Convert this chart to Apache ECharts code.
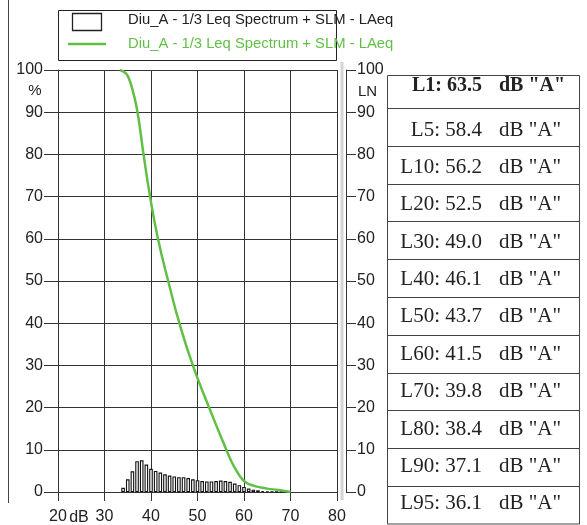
<!DOCTYPE html>
<html><head><meta charset="utf-8">
<script src="https://cdn.jsdelivr.net/npm/echarts@6/dist/echarts.min.js"></script>
<style>html,body{margin:0;padding:0;background:#fff}#c{width:587px;height:525px}</style>
</head><body><div id="c"></div>
<script>
// ---- data ----
const histDb = [34,35,36,37,38,39,40,41,42,43,44,45,46,47,48,49,50,51,52,53,54,55,56,57,58,59,60,61,62,63,64,65,66,67,68,69];
const histPct = [1.0,3.0,4.9,7.3,7.5,6.5,5.5,5.0,4.6,4.2,3.9,3.7,3.5,3.5,3.3,3.0,2.8,2.6,2.5,2.5,2.6,2.7,2.6,2.4,2.0,1.6,1.2,0.8,0.55,0.4,0.25,0.15,0.1,0.07,0.05,0.03];
const curveDb = [33.3,34.6,35.4,36.1,37.1,38.4,39.8,41.5,43.7,46.1,49.0,52.5,56.2,57.4,58.4,59.5,60.5,62.0,63.5,65.0,67.5,70.0];
const curvePct = [100,99.2,97.5,95,90,80,70,60,50,40,30,20,10,7.0,5,3.2,2.2,1.5,1.1,0.8,0.45,0];
const lnNames = ['L1','L5','L10','L20','L30','L40','L50','L60','L70','L80','L90','L95'];
const lnValues = [63.5,58.4,56.2,52.5,49.0,46.1,43.7,41.5,39.8,38.4,37.1,36.1];
const legendLabel = 'Diu_A - 1/3 Leq Spectrum + SLM - LAeq';
const unitLabel = 'dB "A"';

const green = '#62bf46';
const gridC = '#333';
const txtC = '#222';
const sans = '"Liberation Sans", Arial, sans-serif';

const chart = echarts.init(document.getElementById('c'), null, {renderer:'canvas'});

const graphics = [];
graphics.push({type:'line', shape:{x1:8.5,y1:0,x2:8.5,y2:503}, style:{stroke:'#444',lineWidth:1}});
graphics.push({type:'line', shape:{x1:342,y1:62,x2:342,y2:500}, style:{stroke:'#d4d4d4',lineWidth:3}});
// legend
graphics.push({type:'rect', shape:{x:58.5,y:10.5,width:278,height:50}, style:{fill:null,stroke:'#222',lineWidth:1}});
graphics.push({type:'rect', shape:{x:72.5,y:13.5,width:29,height:17}, style:{fill:'#fff',stroke:'#222',lineWidth:1.3}});
graphics.push({type:'line', shape:{x1:68,y1:44,x2:106,y2:44}, style:{stroke:green,lineWidth:2.5}});
graphics.push({type:'text', x:128, y:19.5, style:{text:legendLabel, fill:'#222', font:'14.8px '+sans, textVerticalAlign:'middle'}});
graphics.push({type:'text', x:128, y:44, style:{text:legendLabel, fill:green, font:'14.8px '+sans, textVerticalAlign:'middle'}});
// axis unit texts
graphics.push({type:'text', x:35, y:91, style:{text:'%', fill:txtC, font:'15px '+sans, textAlign:'center', textVerticalAlign:'middle'}});
graphics.push({type:'text', x:358, y:92, style:{text:'LN', fill:txtC, font:'15px '+sans, textAlign:'left', textVerticalAlign:'middle'}});
graphics.push({type:'text', x:79, y:518, style:{text:'dB', fill:txtC, font:'16px '+sans, textAlign:'center', textVerticalAlign:'middle'}});

// table
const tL = 387.5, tR = 579.5, tTop = 75.5, row1B = 108.5, rowH = 37.8;
graphics.push({type:'rect', shape:{x:tL,y:tTop,width:tR-tL,height:524-tTop}, style:{fill:null,stroke:'#444',lineWidth:1}});
graphics.push({type:'line', shape:{x1:tL,y1:row1B,x2:tR,y2:row1B}, style:{stroke:'#444',lineWidth:1}});
for (let i=1;i<11;i++){
  const y = Math.round(108 + rowH*i)+0.5;
  graphics.push({type:'line', shape:{x1:tL,y1:y,x2:tR,y2:y}, style:{stroke:'#444',lineWidth:1}});
}
lnNames.forEach((n,i)=>{
  const cy = i===0 ? 86 : 130 + 37.38*(i-1);
  const f = (i===0?'bold 20px ':'21px ') + '"Liberation Serif", "Times New Roman", serif';
  graphics.push({type:'text', x:482, y:cy, style:{text:n+': '+lnValues[i].toFixed(1), fill:'#222', font:f, textAlign:'right', textVerticalAlign:'middle'}});
  graphics.push({type:'text', x:499, y:cy, style:{text:unitLabel, fill:'#222', font:f, textAlign:'left', textVerticalAlign:'middle'}});
});

const option = {
  animation:false,
  backgroundColor:'#fff',
  grid:{left:58, top:70, width:279, height:424, containLabel:false},
  xAxis:{type:'value', min:20, max:80, interval:10,
    axisLine:{show:true, lineStyle:{color:gridC,width:1}},
    axisTick:{show:true, length:9, lineStyle:{color:gridC}},
    axisLabel:{color:txtC, fontSize:16, fontFamily:sans, margin:17},
    splitLine:{show:true, lineStyle:{color:gridC,width:1}}},
  yAxis:[
    {type:'value', min:0, max:100, interval:10, position:'left',
      axisLine:{show:true, lineStyle:{color:gridC}},
      axisTick:{show:true, length:14, lineStyle:{color:gridC}},
      axisLabel:{color:txtC, fontSize:16, fontFamily:sans, margin:15},
      splitLine:{show:true, lineStyle:{color:gridC,width:1}}},
    {type:'value', min:0, max:100, interval:10, position:'right', offset:9,
      axisLine:{show:true, lineStyle:{color:gridC}},
      axisTick:{show:true, length:10, lineStyle:{color:gridC}},
      axisLabel:{color:txtC, fontSize:16, fontFamily:sans, margin:11},
      splitLine:{show:false}}
  ],
  series:[
    {type:'bar', name:legendLabel, data:histDb.map((d,i)=>[d,histPct[i]]), barWidth:3.6,
      itemStyle:{color:'#fff', borderColor:'#111', borderWidth:1.1}, z:3},
    {type:'line', name:legendLabel, data:curveDb.map((d,i)=>[d,curvePct[i]]), smooth:0.5,
      showSymbol:false, lineStyle:{color:green,width:2.5}, itemStyle:{color:green}, z:5}
  ],
  graphic:graphics
};
chart.setOption(option);
</script></body></html>
